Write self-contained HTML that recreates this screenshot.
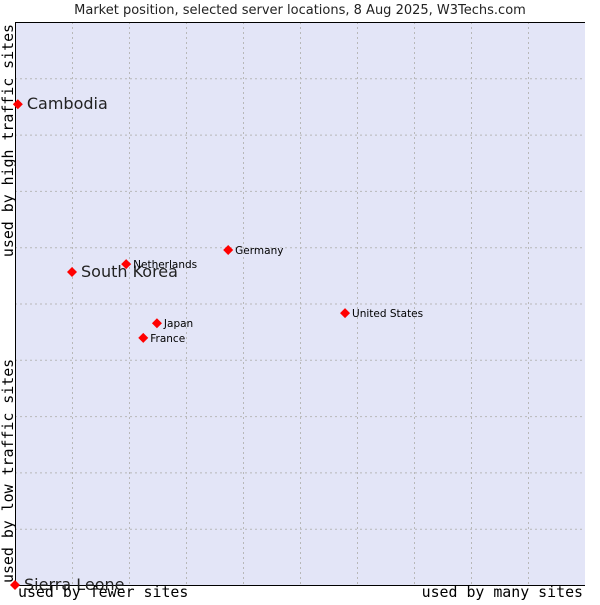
<!DOCTYPE html>
<html><head><meta charset="utf-8"><style>
body{margin:0;background:#fff;width:600px;height:600px;overflow:hidden}
text{font-family:"DejaVu Sans",sans-serif}
.mono{font-family:"DejaVu Sans Mono","Liberation Mono",monospace}
</style></head><body>
<svg id="chart" width="600" height="600" xmlns="http://www.w3.org/2000/svg">
<text x="300" y="14" font-size="13" text-anchor="middle" fill="#222">Market position, selected server locations, 8 Aug 2025, W3Techs.com</text>
<rect x="15" y="22" width="570" height="563" fill="#e3e5f7" stroke="none"/>
<g id="grid"></g>
<line x1="15.5" y1="22" x2="15.5" y2="585" stroke="#000"/>
<line x1="15" y1="585.5" x2="585" y2="585.5" stroke="#000"/>
<line x1="15" y1="22.5" x2="585" y2="22.5" stroke="#000"/>
<g id="points"></g>
<text class="mono" x="18" y="597" font-size="14.9" fill="#000">used by fewer sites</text>
<text class="mono" x="583" y="597" font-size="14.9" text-anchor="end" fill="#000">used by many sites</text>
<text class="mono" transform="translate(13,24) rotate(-90)" font-size="14.9" text-anchor="end" fill="#000">used by high traffic sites</text>
<text class="mono" transform="translate(13,583) rotate(-90)" font-size="14.9" fill="#000">used by low traffic sites</text>
</svg>
<script>
const names=["Cambodia","South Korea","Netherlands","Germany","United States","Japan","France","Sierra Leone"];
const xVals=[0.05,1.0,1.95,3.74,5.79,2.49,2.25,0];
const yVals=[8.54,5.56,5.70,5.95,4.83,4.65,4.39,0];
const big=[true,true,false,false,false,false,false,true];
const NS="http://www.w3.org/2000/svg";
const X=v=>15+v*57, Y=v=>585-v*56.3;
const grid=document.getElementById('grid');
for(let i=1;i<10;i++){
 let l=document.createElementNS(NS,'line');
 
 
 l.setAttribute('x1',X(i)+.5);l.setAttribute('x2',X(i)+.5);l.setAttribute('y1',22);l.setAttribute('y2',585);
 l.setAttribute('stroke','#b8b8b8');l.setAttribute('stroke-dasharray','2,3');grid.appendChild(l);
 let m=document.createElementNS(NS,'line');
 
 
 m.setAttribute('y1',Y(i)+.5);m.setAttribute('y2',Y(i)+.5);m.setAttribute('x1',15);m.setAttribute('x2',585);
 m.setAttribute('stroke','#b8b8b8');m.setAttribute('stroke-dasharray','2,3');grid.appendChild(m);
}
const pts=document.getElementById('points');
names.forEach((n,i)=>{
 const x=X(xVals[i]),y=Y(yVals[i]);
 let d=document.createElementNS(NS,'path');
 
 
 d.setAttribute('d',`M${x-5},${y}L${x},${y-5}L${x+5},${y}L${x},${y+5}Z`);
 d.setAttribute('fill','#f00');pts.appendChild(d);
 let t=document.createElementNS(NS,'text');
 
 
 t.setAttribute('x',x+(big[i]?9:7));t.setAttribute('y',y+(big[i]?5:4));
 t.setAttribute('font-size',big[i]?16:10.5);t.setAttribute('fill',big[i]?'#222':'#000');
 t.textContent=n;pts.appendChild(t);
});
</script>
</body></html>
